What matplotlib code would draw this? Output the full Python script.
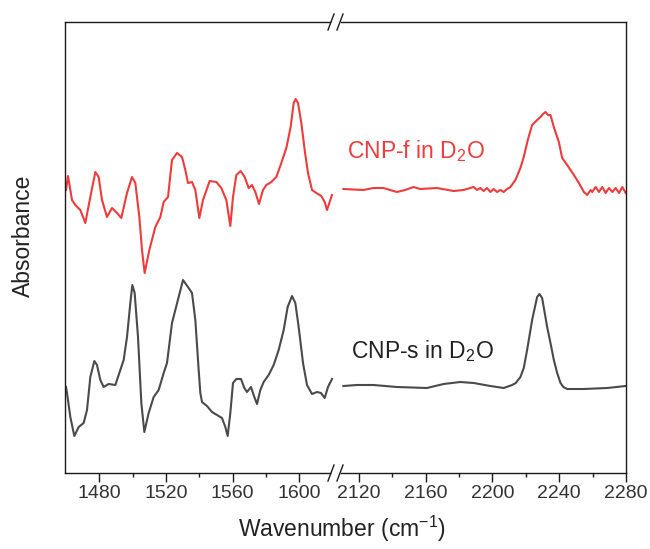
import matplotlib
matplotlib.use("Agg")
import matplotlib.pyplot as plt
from matplotlib.lines import Line2D

plt.rcParams['font.family'] = ['Liberation Sans', 'DejaVu Sans']
plt.rcParams['mathtext.fontset'] = 'custom'
plt.rcParams['mathtext.rm'] = 'Liberation Sans'
plt.rcParams['mathtext.it'] = 'Liberation Sans:italic'
plt.rcParams['mathtext.bf'] = 'Liberation Sans:bold'

# ---------------- data (arbitrary absorbance units) ----------------
red_left_wn = [1460.0, 1461.2, 1463.6, 1465.6, 1468.6, 1471.6, 1474.6, 1477.6, 1479.6, 1481.6,
               1484.6, 1487.6, 1490.6, 1493.2, 1496.6, 1499.6, 1501.6, 1504.0, 1505.6, 1507.2,
               1510.0, 1513.6, 1516.6, 1518.6, 1521.2, 1523.6, 1526.6, 1529.6, 1531.6, 1533.2,
               1535.6, 1537.6, 1540.0, 1542.2, 1546.2, 1550.2, 1553.2, 1556.2, 1558.6, 1560.2,
               1562.2, 1564.8, 1567.2, 1569.6, 1571.6, 1573.6, 1575.8, 1578.2, 1580.2, 1583.2,
               1586.2, 1589.2, 1592.2, 1594.8, 1596.6, 1597.8, 1599.2, 1601.2, 1603.2, 1605.2,
               1607.6, 1610.2, 1613.2, 1615.2, 1616.6, 1618.2, 1619.6]
red_left_abs = [2.83, 2.97, 2.73, 2.68, 2.63, 2.50, 2.76, 3.01, 2.96, 2.73,
                2.56, 2.65, 2.60, 2.55, 2.80, 2.96, 2.90, 2.56, 2.23, 2.00,
                2.23, 2.46, 2.56, 2.71, 2.76, 3.13, 3.20, 3.16, 3.03, 2.90,
                2.91, 2.83, 2.55, 2.73, 2.92, 2.91, 2.85, 2.73, 2.47, 2.76,
                2.98, 3.02, 2.96, 2.85, 2.88, 2.81, 2.69, 2.83, 2.88, 2.91,
                2.96, 3.10, 3.25, 3.46, 3.70, 3.74, 3.70, 3.50, 3.23, 3.00,
                2.83, 2.80, 2.77, 2.71, 2.63, 2.71, 2.78]

red_right_wn = [2110.8, 2122.8, 2128.8, 2134.8, 2142.8, 2147.8, 2152.8, 2156.8, 2166.8, 2176.8,
                2182.8, 2188.8, 2190.8, 2192.8, 2194.8, 2196.8, 2198.8, 2200.8, 2202.8, 2204.8,
                2206.8, 2208.8, 2210.8, 2213.8, 2216.8, 2218.8, 2221.2, 2223.8, 2226.8, 2228.8,
                2230.3, 2231.8, 2233.3, 2234.8, 2236.8, 2239.8, 2241.8, 2244.8, 2248.8, 2251.8,
                2254.8, 2256.8, 2258.8, 2259.8, 2261.8, 2263.8, 2265.8, 2267.8, 2269.8, 2271.8,
                2273.8, 2275.8, 2277.8, 2279.8]
red_right_abs = [2.84, 2.83, 2.85, 2.85, 2.81, 2.83, 2.86, 2.84, 2.85, 2.82,
                 2.83, 2.86, 2.83, 2.85, 2.82, 2.85, 2.81, 2.84, 2.81, 2.83,
                 2.81, 2.84, 2.86, 2.93, 3.05, 3.16, 3.33, 3.48, 3.53, 3.56,
                 3.59, 3.61, 3.58, 3.58, 3.46, 3.31, 3.15, 3.08, 2.98, 2.90,
                 2.81, 2.78, 2.83, 2.81, 2.86, 2.81, 2.86, 2.80, 2.85, 2.81,
                 2.85, 2.80, 2.86, 2.80]

gray_left_wn = [1460.0, 1460.6, 1462.6, 1465.0, 1467.6, 1470.6, 1472.6, 1474.6, 1477.0, 1478.6,
                1480.6, 1482.6, 1485.6, 1489.6, 1492.6, 1494.6, 1496.6, 1498.6, 1499.8, 1501.2,
                1503.2, 1505.2, 1507.0, 1509.6, 1512.6, 1515.6, 1518.6, 1520.6, 1523.6, 1527.6,
                1530.2, 1533.6, 1535.6, 1537.6, 1539.6, 1540.6, 1541.6, 1544.6, 1547.6, 1550.6,
                1553.6, 1555.6, 1557.0, 1558.6, 1560.2, 1562.2, 1565.0, 1567.0, 1568.6, 1571.0,
                1573.0, 1574.6, 1576.6, 1578.6, 1581.6, 1584.6, 1587.6, 1590.6, 1593.0, 1595.6,
                1597.6, 1599.6, 1602.2, 1604.6, 1607.6, 1610.6, 1613.0, 1615.2, 1617.2, 1619.6]
gray_left_abs = [0.86, 0.80, 0.56, 0.37, 0.46, 0.50, 0.63, 0.96, 1.12, 1.08,
                 0.93, 0.86, 0.89, 0.88, 1.03, 1.13, 1.36, 1.70, 1.88, 1.80,
                 1.36, 0.70, 0.41, 0.60, 0.76, 0.83, 1.00, 1.10, 1.50, 1.76,
                 1.93, 1.85, 1.80, 1.53, 1.03, 0.80, 0.71, 0.67, 0.61, 0.58,
                 0.55, 0.46, 0.37, 0.60, 0.90, 0.94, 0.94, 0.85, 0.81, 0.86,
                 0.76, 0.69, 0.83, 0.91, 0.98, 1.08, 1.23, 1.43, 1.66, 1.77,
                 1.70, 1.46, 1.10, 0.88, 0.79, 0.81, 0.80, 0.75, 0.86, 0.94]

gray_right_wn = [2110.8, 2118.8, 2128.8, 2142.8, 2160.8, 2170.8, 2180.8, 2188.8, 2198.8, 2206.8,
                 2211.8, 2214.0, 2216.8, 2218.8, 2220.8, 2223.8, 2226.8, 2228.2, 2229.8, 2232.8,
                 2234.8, 2236.8, 2238.8, 2240.8, 2242.5, 2244.8, 2254.8, 2268.8, 2279.8]
gray_right_abs = [0.87, 0.88, 0.88, 0.86, 0.85, 0.89, 0.91, 0.90, 0.87, 0.85,
                  0.88, 0.90, 0.96, 1.05, 1.23, 1.53, 1.76, 1.79, 1.75, 1.46,
                  1.30, 1.13, 1.00, 0.90, 0.86, 0.84, 0.84, 0.85, 0.87]

left_ticks = [1480, 1520, 1560, 1600]
left_minor = [1500, 1540, 1580]
right_ticks = [2120, 2160, 2200, 2240, 2280]
right_minor = [2140, 2180, 2220, 2260]
label_f = 'CNP-f in D$_\\mathregular{2}$O'
label_s = 'CNP-s in D$_\\mathregular{2}$O'

RED = '#EE3B3B'
GRAY = '#4A4A4A'

W, H = 650, 549
fig = plt.figure(figsize=(6.5, 5.49), dpi=100)

def fx(px):
    return px / W

def fy(py):
    return 1 - py / H

x0, xb, x1 = 65, 335, 626
ytop, ybot = 22, 473
axL = fig.add_axes([fx(x0), fy(ybot), fx(xb) - fx(x0), fy(ytop) - fy(ybot)])
axR = fig.add_axes([fx(xb), fy(ybot), fx(x1) - fx(xb), fy(ytop) - fy(ybot)])

axL.plot(red_left_wn, red_left_abs, color=RED, lw=1.5)
axL.plot(gray_left_wn, gray_left_abs, color=GRAY, lw=1.5)
axR.plot(red_right_wn, red_right_abs, color=RED, lw=1.5)
axR.plot(gray_right_wn, gray_right_abs, color=GRAY, lw=1.5)

axL.set_xlim(1459.4, 1621.4)
axR.set_xlim(2105.8, 2280)
for ax in (axL, axR):
    ax.set_ylim(0, 4.51)
    ax.set_yticks([])
    for s in ax.spines.values():
        s.set_linewidth(1.0)
        s.set_color('#1a1a1a')
    ax.tick_params(axis='x', which='major', direction='out', length=6.5, width=1.0,
                   labelsize=14, pad=2, colors='#1a1a1a', labelcolor='#333333')
    ax.tick_params(axis='x', which='minor', direction='out', length=3.2, width=1.0,
                   colors='#1a1a1a')
    ax.patch.set_alpha(0)

axL.set_xticks(left_ticks)
axL.set_xticks(left_minor, minor=True)
axR.set_xticks(right_ticks)
axR.set_xticks(right_minor, minor=True)

axL.spines['right'].set_visible(False)
axR.spines['left'].set_visible(False)
axL.spines['top'].set_bounds(1459.4, 1618.4)
axL.spines['bottom'].set_bounds(1459.4, 1618.4)
axR.spines['top'].set_bounds(2109.4, 2280)
axR.spines['bottom'].set_bounds(2109.4, 2280)

# break marks
for yc in (ytop, ybot):
    for xc in (331, 340):
        fig.add_artist(Line2D([fx(xc - 3), fx(xc + 3)], [fy(yc + 8), fy(yc - 8)],
                              color='#1a1a1a', lw=1.0))

axR.text(2112.8, 3.147, label_f, color=RED, fontsize=16.5, ha='left', va='baseline')
axR.text(2115.2, 1.153, label_s, color='#222222', fontsize=16.5, ha='left', va='baseline')

fig.text(fx(23), fy(236), 'Absorbance', rotation=90, ha='center', va='center',
         fontsize=16.5, color='#222222')
fig.text(fx(342), fy(537), 'Wavenumber (cm$^{\\mathregular{-1}}$)', ha='center', va='baseline',
         fontsize=16.5, color='#222222')

fig.savefig('out.png', dpi=100)
